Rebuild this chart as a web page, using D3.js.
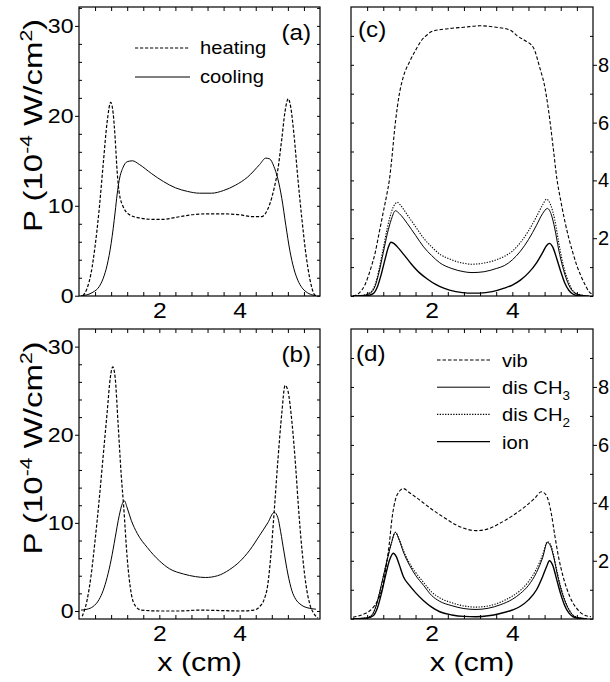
<!DOCTYPE html>
<html>
<head>
<meta charset="utf-8">
<script src="https://cdn.jsdelivr.net/npm/d3@7"></script>
<style>
  body { margin: 0; background: #fff; }
  text { font-family: "Liberation Sans", Arial, sans-serif; fill: #000; }
</style>
</head>
<body>
<script>
// ---- data: [x (cm), P] ----
var heatingA = [[0.1,0],[0.2,0.8],[0.3,2.5],[0.4,5.5],[0.5,9.5],[0.6,14.5],[0.7,19.3],[0.79,21.5],[0.85,20.3],[0.9,17.5],[0.95,13.8],[1.0,11.5],[1.1,9.9],[1.2,9.2],[1.3,8.9],[1.5,8.65],[1.8,8.5],[2.1,8.5],[2.4,8.7],[2.8,9.0],[3.2,9.1],[3.6,9.1],[4.0,9.0],[4.3,8.8],[4.55,8.8],[4.65,9.2],[4.75,10.2],[4.85,11.8],[4.95,14.0],[5.05,17.5],[5.13,20.5],[5.21,21.9],[5.27,21],[5.35,18],[5.45,13],[5.55,8.5],[5.65,4.6],[5.75,1.8],[5.85,0.2],[5.9,0]];
var coolingA = [[0.05,0],[0.2,0.1],[0.35,0.4],[0.5,1.0],[0.6,1.9],[0.7,3.4],[0.8,5.8],[0.9,9.3],[0.95,11.3],[1.0,12.8],[1.1,14.3],[1.2,14.9],[1.33,15.0],[1.5,14.6],[1.8,13.6],[2.1,12.7],[2.4,12.0],[2.7,11.6],[3.0,11.4],[3.3,11.4],[3.6,11.7],[3.9,12.3],[4.2,13.2],[4.5,14.6],[4.65,15.3],[4.75,15.2],[4.85,14.4],[4.95,13.0],[5.05,10.8],[5.15,7.8],[5.25,5.0],[5.35,3.0],[5.45,1.7],[5.55,0.9],[5.65,0.45],[5.8,0.1],[5.9,0.02]];

var heatingB = [[0.08,-0.6],[0.2,1.2],[0.3,4.0],[0.4,8.0],[0.5,12.5],[0.6,17.5],[0.7,22.5],[0.78,26.5],[0.84,27.7],[0.9,26.5],[0.97,21.5],[1.05,15.5],[1.11,12.0],[1.2,6.0],[1.3,2.0],[1.4,0.6],[1.55,0.1],[2.0,0.0],[2.5,0.0],[3.0,0.1],[3.5,0.05],[4.0,0.0],[4.35,0.1],[4.5,0.5],[4.6,1.2],[4.7,3.0],[4.78,6.5],[4.85,10.7],[4.95,17.0],[5.05,22.5],[5.13,25.6],[5.2,25.0],[5.3,21.5],[5.4,16.0],[5.46,12.0],[5.55,7.0],[5.65,3.0],[5.75,0.7],[5.85,-0.3],[5.95,-0.8]];
var coolingB = [[0.05,0.1],[0.2,0.2],[0.35,0.5],[0.5,1.3],[0.6,2.3],[0.7,3.8],[0.8,5.8],[0.9,8.3],[1.0,10.8],[1.08,12.2],[1.13,12.5],[1.2,11.7],[1.3,10.3],[1.45,8.8],[1.7,7.2],[2.0,5.7],[2.25,4.8],[2.6,4.2],[2.9,3.9],[3.15,3.8],[3.45,4.0],[3.75,4.7],[4.0,5.6],[4.25,6.9],[4.5,8.6],[4.7,10.0],[4.86,11.2],[4.95,10.6],[5.02,9.0],[5.1,6.8],[5.2,4.2],[5.3,2.3],[5.4,1.3],[5.5,0.8],[5.6,0.5],[5.75,0.3],[5.9,0.2]];

var vibC = [[0.05,0],[0.2,0.1],[0.35,0.4],[0.5,1.0],[0.6,1.5],[0.7,2.2],[0.8,2.9],[0.9,3.6],[0.95,4.0],[1.0,4.6],[1.1,6.0],[1.2,7.0],[1.3,7.6],[1.45,8.1],[1.6,8.5],[1.75,8.85],[1.9,9.05],[2.0,9.15],[2.4,9.25],[2.8,9.3],[3.2,9.35],[3.6,9.3],[3.95,9.2],[4.12,9.0],[4.3,8.85],[4.52,8.6],[4.68,7.9],[4.81,7.2],[4.9,6.4],[5.02,5.05],[5.1,4.1],[5.2,3.3],[5.3,2.6],[5.4,2.0],[5.5,1.5],[5.6,1.05],[5.7,0.7],[5.8,0.4],[5.9,0.15],[6.0,0.05]];
var ch3C = [[0.05,0],[0.3,0.02],[0.5,0.12],[0.6,0.35],[0.7,0.85],[0.8,1.5],[0.9,2.15],[1.0,2.65],[1.1,2.95],[1.2,2.85],[1.4,2.5],[1.6,2.1],[1.8,1.7],[2.0,1.4],[2.2,1.15],[2.5,0.95],[2.8,0.84],[3.0,0.81],[3.3,0.84],[3.6,0.95],[3.8,1.05],[4.0,1.25],[4.2,1.55],[4.4,1.95],[4.6,2.45],[4.75,2.85],[4.87,3.03],[4.97,2.8],[5.05,2.35],[5.15,1.6],[5.25,1.0],[5.35,0.55],[5.45,0.25],[5.55,0.1],[5.7,0.03],[5.9,0]];
var ch2C = [[0.05,0],[0.3,0.03],[0.5,0.15],[0.6,0.4],[0.7,0.95],[0.8,1.65],[0.9,2.35],[1.0,2.9],[1.1,3.2],[1.15,3.24],[1.25,3.1],[1.4,2.8],[1.6,2.4],[1.8,2.0],[2.0,1.7],[2.2,1.45],[2.5,1.25],[2.8,1.13],[3.0,1.1],[3.3,1.14],[3.6,1.25],[3.8,1.37],[4.0,1.55],[4.2,1.85],[4.4,2.25],[4.6,2.75],[4.75,3.15],[4.85,3.35],[4.95,3.15],[5.05,2.65],[5.15,1.85],[5.25,1.15],[5.35,0.65],[5.45,0.3],[5.55,0.12],[5.7,0.04],[5.9,0]];
var ionC = [[0.05,0],[0.4,0.01],[0.55,0.08],[0.65,0.3],[0.75,0.75],[0.85,1.3],[0.93,1.7],[0.99,1.86],[1.05,1.83],[1.15,1.7],[1.3,1.45],[1.5,1.1],[1.7,0.8],[1.9,0.58],[2.1,0.4],[2.3,0.27],[2.6,0.15],[2.9,0.1],[3.2,0.1],[3.5,0.15],[3.8,0.27],[4.0,0.38],[4.2,0.55],[4.4,0.8],[4.6,1.15],[4.75,1.5],[4.85,1.75],[4.92,1.82],[5.0,1.7],[5.1,1.3],[5.2,0.85],[5.3,0.45],[5.4,0.2],[5.5,0.07],[5.6,0.02],[5.8,0]];

var vibD = [[0.05,0.05],[0.3,0.15],[0.53,0.36],[0.65,0.6],[0.74,0.9],[0.8,1.2],[0.86,1.7],[0.95,2.6],[1.02,3.5],[1.1,4.1],[1.2,4.4],[1.3,4.49],[1.45,4.35],[1.7,4.1],[2.0,3.78],[2.3,3.5],[2.6,3.24],[2.9,3.08],[3.1,3.04],[3.4,3.1],[3.7,3.3],[4.0,3.55],[4.3,3.85],[4.55,4.15],[4.72,4.38],[4.82,4.3],[4.9,4.05],[4.97,3.6],[5.05,2.9],[5.15,2.1],[5.25,1.5],[5.36,1.0],[5.48,0.6],[5.6,0.35],[5.75,0.15],[5.95,0.07]];
var ch3D = [[0.05,0],[0.35,0.02],[0.5,0.1],[0.6,0.35],[0.7,0.85],[0.8,1.45],[0.9,2.05],[1.0,2.6],[1.1,2.98],[1.2,2.7],[1.3,2.3],[1.45,1.85],[1.6,1.5],[1.8,1.15],[2.0,0.8],[2.2,0.6],[2.5,0.45],[2.8,0.35],[3.1,0.32],[3.4,0.36],[3.7,0.48],[4.0,0.67],[4.2,0.87],[4.4,1.15],[4.6,1.6],[4.75,2.1],[4.87,2.63],[4.95,2.5],[5.03,2.1],[5.12,1.5],[5.22,0.95],[5.32,0.55],[5.42,0.27],[5.52,0.1],[5.65,0.03],[5.85,0]];
var ch2D = [[0.05,0],[0.35,0.02],[0.5,0.1],[0.6,0.35],[0.7,0.85],[0.8,1.45],[0.9,2.05],[1.0,2.6],[1.1,2.98],[1.2,2.72],[1.3,2.35],[1.45,1.92],[1.6,1.6],[1.8,1.25],[2.0,0.92],[2.2,0.72],[2.5,0.55],[2.8,0.44],[3.1,0.4],[3.4,0.44],[3.7,0.57],[4.0,0.78],[4.2,0.98],[4.4,1.28],[4.6,1.72],[4.75,2.2],[4.87,2.66],[4.95,2.55],[5.03,2.15],[5.12,1.55],[5.22,1.0],[5.32,0.58],[5.42,0.28],[5.52,0.1],[5.65,0.03],[5.85,0]];
var ionD = [[0.05,0],[0.4,0.02],[0.55,0.1],[0.65,0.35],[0.75,0.85],[0.85,1.45],[0.95,2.0],[1.05,2.26],[1.12,2.15],[1.2,1.85],[1.3,1.45],[1.45,1.15],[1.6,0.9],[1.8,0.62],[2.0,0.4],[2.2,0.24],[2.5,0.13],[2.8,0.08],[3.1,0.07],[3.4,0.1],[3.7,0.18],[4.0,0.3],[4.2,0.43],[4.4,0.65],[4.6,1.0],[4.75,1.45],[4.85,1.8],[4.92,2.0],[5.0,1.85],[5.1,1.35],[5.2,0.85],[5.3,0.45],[5.4,0.2],[5.5,0.07],[5.6,0.02],[5.8,0]];

var xTickLabels = [2, 4];
var leftTickLabels = [0, 10, 20, 30];
var rightTickLabels = [2, 4, 6, 8];
var legendAB = ['heating', 'cooling'];
var legendCD = ['vib', 'dis CH', 'dis CH', 'ion'];
var legendCDsub = ['', '3', '2', ''];

var width = 610;
var height = 682;

var svg = d3.select('body')
    .append('svg')
    .attr('width', width)
    .attr('height', height);

// line styles
var styles = {
    heating: { dash: '3.2,1.8', w: 1.2 },
    cooling: { dash: null, w: 1 },
    vib: { dash: '3.5,2', w: 1.1 },
    ch3: { dash: null, w: 1 },
    ch2: { dash: '1.3,1.4', w: 1.1 },
    ion: { dash: null, w: 1.4 }
};

var panels = [
    { x0: 79, y0: 7, w: 241, h: 289, yDom: [-0.03, 32.1], side: 'left', tag: '(a)', tagX: 311, tagAnchor: 'end', tagY: 40,
      series: [[heatingA, 'heating'], [coolingA, 'cooling']] },
    { x0: 79, y0: 329, w: 241, h: 290, yDom: [-0.91, 32.0], side: 'left', tag: '(b)', tagX: 311, tagAnchor: 'end', tagY: 362,
      series: [[heatingB, 'heating'], [coolingB, 'cooling']], xTitle: true },
    { x0: 351, y0: 7, w: 242, h: 289, yDom: [0, 10], side: 'right', tag: '(c)', tagX: 358, tagAnchor: 'start', tagY: 37,
      series: [[vibC, 'vib'], [ch3C, 'ch3'], [ch2C, 'ch2'], [ionC, 'ion']] },
    { x0: 351, y0: 329, w: 242, h: 290, yDom: [-0.01, 10], side: 'right', tag: '(d)', tagX: 356, tagAnchor: 'start', tagY: 361,
      series: [[vibD, 'vib'], [ch3D, 'ch3'], [ch2D, 'ch2'], [ionD, 'ion']], xTitle: true }
];

panels.forEach(function (p) {
    var g = svg.append('g').attr('transform', 'translate(' + p.x0 + ',' + p.y0 + ')');

    var x = d3.scaleLinear().domain([0, 6]).range([0, p.w]);
    var y = d3.scaleLinear().domain(p.yDom).range([p.h, 0]);

    var clipId = 'clip' + p.tag.charAt(1);
    g.append('clipPath').attr('id', clipId)
        .append('rect').attr('width', p.w).attr('height', p.h);

    var line = d3.line()
        .x(function (d) { return x(d[0]); })
        .y(function (d) { return y(d[1]); })
        .curve(d3.curveMonotoneX);

    p.series.forEach(function (s) {
        var st = styles[s[1]];
        g.append('path')
            .datum(s[0])
            .attr('clip-path', 'url(#' + clipId + ')')
            .attr('fill', 'none')
            .attr('stroke', '#000')
            .attr('stroke-width', st.w)
            .attr('stroke-dasharray', st.dash)
            .attr('d', line);
    });

    // x ticks, inside, top and bottom
    var xMinor = d3.range(1, 15).map(function (i) { return i * 0.4; });
    g.append('g').attr('transform', 'translate(0,' + p.h + ')')
        .call(d3.axisBottom(x).tickValues(xMinor).tickSize(-4).tickFormat(''));
    g.append('g')
        .call(d3.axisTop(x).tickValues(xMinor).tickSize(-4).tickFormat(''));

    // x labels
    var xl = g.append('g').attr('transform', 'translate(0,' + p.h + ')')
        .call(d3.axisBottom(x).tickValues(xTickLabels).tickSize(0).tickPadding(7).tickFormat(d3.format('d')));

    // y ticks
    var step = p.side === 'left' ? 2 : 1;
    var majors = p.side === 'left' ? leftTickLabels : rightTickLabels;
    var yAll = d3.range(0, p.yDom[1], step);
    var yMinor = yAll.filter(function (v) { return majors.indexOf(v) < 0; });

    var yl = g.append('g'), yr = g.append('g').attr('transform', 'translate(' + p.w + ',0)');
    var ylab;
    if (p.side === 'left') {
        yl.call(d3.axisLeft(y).tickValues(yMinor).tickSize(-3).tickFormat(''));
        ylab = yl.append('g').call(d3.axisLeft(y).tickValues(majors).tickSize(4).tickPadding(1).tickFormat(d3.format('d')));
        yr.call(d3.axisRight(y).tickValues(yAll).tickSize(-3).tickFormat(''));
    } else {
        yl.call(d3.axisLeft(y).tickValues(yAll).tickSize(-3).tickFormat(''));
        yr.call(d3.axisRight(y).tickValues(yMinor).tickSize(-3).tickFormat(''));
        ylab = yr.append('g').call(d3.axisRight(y).tickValues(majors).tickSize(4).tickPadding(1).tickFormat(d3.format('d')));
    }
    g.selectAll('.domain').remove();
    g.selectAll('.tick line').attr('stroke', '#000').attr('stroke-width', 1);
    g.selectAll('.tick text').attr('font-size', 21).attr('font-family', '"Liberation Sans", Arial, sans-serif')
        .attr('fill', '#000');
    xl.selectAll('text').attr('font-size', 22).attr('transform', 'scale(1.12,1)').attr('dy', '0.68em');
    if (p.side === 'left') {
        ylab.selectAll('text').attr('transform', 'scale(1.1,1)');
    } else {
        ylab.selectAll('text').attr('font-size', 20);
    }

    // frame
    g.append('rect')
        .attr('width', p.w).attr('height', p.h)
        .attr('fill', 'none').attr('stroke', '#000').attr('stroke-width', 1.2);

    // panel tag
    svg.append('text')
        .attr('transform', 'translate(' + p.tagX + ',' + p.tagY + ') scale(1.1,1)')
        .attr('text-anchor', p.tagAnchor)
        .attr('font-size', 22)
        .text(p.tag);

    if (p.xTitle) {
        svg.append('text')
            .attr('transform', 'translate(' + (p.x0 + p.w / 2) + ',671) scale(1.22,1)')
            .attr('text-anchor', 'middle')
            .attr('font-size', 25)
            .text('x (cm)');
    }

    if (p.side === 'left') {
        var t = svg.append('text')
            .attr('transform', 'translate(42,' + (p.y0 + p.h / 2 - 26) + ') rotate(-90) scale(1.32,1)')
            .attr('text-anchor', 'middle')
            .attr('font-size', 25);
        t.append('tspan').text('P (10');
        t.append('tspan').attr('dy', -10).attr('font-size', 16).text('-4');
        t.append('tspan').attr('dy', 10).text(' W/cm');
        t.append('tspan').attr('dy', -10).attr('font-size', 16).text('2');
        t.append('tspan').attr('dy', 10).text(')');
    }
});

// legend (a)
var legA = svg.append('g');
['heating', 'cooling'].forEach(function (k, i) {
    var yy = 48 + i * 29;
    legA.append('line').attr('x1', 135).attr('x2', 190).attr('y1', yy).attr('y2', yy)
        .attr('stroke', '#000').attr('stroke-width', styles[k].w).attr('stroke-dasharray', styles[k].dash);
    legA.append('text').attr('transform', 'translate(200,' + (yy + 6) + ') scale(1.12,1)')
        .attr('font-size', 18).text(legendAB[i]);
});

// legend (d)
var legD = svg.append('g');
['vib', 'ch3', 'ch2', 'ion'].forEach(function (k, i) {
    var yy = 360 + i * 27.2;
    legD.append('line').attr('x1', 437).attr('x2', 490).attr('y1', yy).attr('y2', yy)
        .attr('stroke', '#000').attr('stroke-width', styles[k].w).attr('stroke-dasharray', styles[k].dash);
    var t = legD.append('text').attr('transform', 'translate(502,' + (yy + 7) + ') scale(1.12,1)')
        .attr('font-size', 18).text(legendCD[i]);
    if (legendCDsub[i]) {
        t.append('tspan').attr('dy', 6).attr('font-size', 12).text(legendCDsub[i]);
    }
});
</script>
</body>
</html>
